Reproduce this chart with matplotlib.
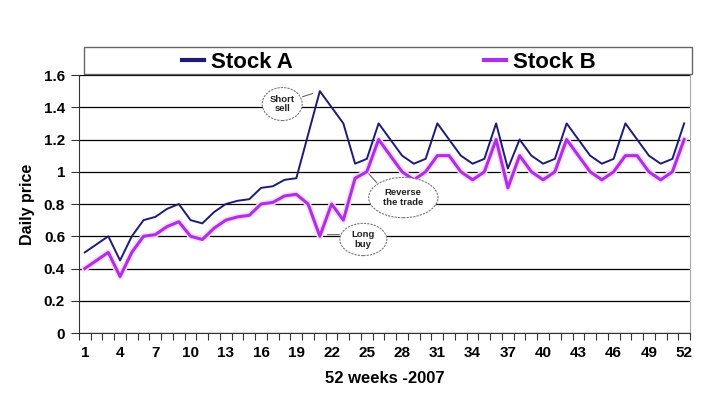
import matplotlib.pyplot as plt
from matplotlib.patches import Ellipse, Rectangle
import numpy as np

weeks = list(range(1, 53))
stock_a = [0.50, 0.55, 0.60, 0.45, 0.60, 0.70, 0.72, 0.77, 0.80, 0.70,
           0.68, 0.75, 0.80, 0.82, 0.83, 0.90, 0.91, 0.95, 0.96, 1.23,
           1.50, 1.40, 1.30, 1.05, 1.08, 1.30, 1.20, 1.10, 1.05, 1.08,
           1.30, 1.20, 1.10, 1.05, 1.08, 1.30, 1.02, 1.20, 1.10, 1.05,
           1.08, 1.30, 1.20, 1.10, 1.05, 1.08, 1.30, 1.20, 1.10, 1.05,
           1.08, 1.30]
stock_b = [0.40, 0.45, 0.50, 0.35, 0.50, 0.60, 0.61, 0.66, 0.69, 0.60,
           0.58, 0.65, 0.70, 0.72, 0.73, 0.80, 0.81, 0.85, 0.86, 0.80,
           0.60, 0.80, 0.70, 0.96, 1.00, 1.20, 1.10, 1.00, 0.95, 1.00,
           1.10, 1.10, 1.00, 0.95, 1.00, 1.20, 0.90, 1.10, 1.00, 0.95,
           1.00, 1.20, 1.10, 1.00, 0.95, 1.00, 1.10, 1.10, 1.00, 0.95,
           1.00, 1.20]
week_labels = list(range(1, 53, 3))
y_ticks = [0, 0.2, 0.4, 0.6, 0.8, 1, 1.2, 1.4, 1.6]
y_labels = ['0', '0.2', '0.4', '0.6', '0.8', '1', '1.2', '1.4', '1.6']

# callouts: text, ellipse centre, ellipse size, pointed week/value
notes = [("Short\nsell", (17.8, 1.42), (3.4, 0.205), (20.6, 1.49), (19.3, 1.46)),
         ("Reverse\nthe trade", (28.1, 0.84), (5.9, 0.25), (25.0, 1.0), (26.0, 0.92)),
         ("Long\nbuy", (24.7, 0.58), (4.0, 0.20), (21.4, 0.61), (22.9, 0.61))]

plt.rcParams['font.family'] = ['Liberation Sans', 'DejaVu Sans']

fig = plt.figure(figsize=(7.11, 3.99), dpi=100)
ax = fig.add_axes([0.111, 0.1654, 0.8595, 0.6466])

ax.plot(weeks, stock_b, color='#f8dcf8', lw=4.5, zorder=2)
ax.plot(weeks, stock_a, color='#1c1c78', lw=1.4, label='Stock A', zorder=3)
ax.plot(weeks, stock_b, color='#b02ee8', lw=2.2, label='Stock B', zorder=4)

ax.set_xlim(0.5, 52.5)
ax.set_ylim(0, 1.6)
ax.set_yticks(y_ticks)
ax.set_yticklabels(y_labels, fontsize=11, fontweight='bold')
ax.set_xticks(week_labels)
ax.set_xticklabels([str(w) for w in week_labels], fontsize=11, fontweight='bold')
ax.set_xticks(np.arange(0.5, 53, 1), minor=True)
ax.tick_params(axis='x', which='major', length=0, pad=9)
ax.tick_params(axis='x', which='minor', length=5, width=0.8, color='#333333')
ax.tick_params(axis='y', length=6, width=0.8, color='#333333', pad=4)
ax.yaxis.grid(True, color='black', lw=0.9)
ax.set_axisbelow(True)
ax.spines['top'].set_visible(False)
ax.spines['right'].set_color('#aaaaaa')
ax.spines['left'].set_color('#333333')
ax.spines['bottom'].set_color('#333333')

ax.set_xlabel('52 weeks -2007', fontsize=12, fontweight='bold', labelpad=8)
ax.set_ylabel('Daily price', fontsize=11.5, fontweight='bold', labelpad=6)

for txt, c, size, tip, base in notes:
    ax.annotate('', xy=tip, xytext=base,
                arrowprops=dict(arrowstyle='-', color='#555555', lw=0.7))
    ax.add_patch(Ellipse(c, size[0], size[1], facecolor='white', edgecolor='#777777',
                         lw=0.8, ls=(0, (2, 1)), zorder=6))
    ax.text(c[0], c[1], txt, ha='center', va='center', fontsize=6.8,
            fontweight='bold', color='#222222', zorder=7, linespacing=1.1)

# legend strip above the plot
fig.patches.append(Rectangle((84 / 711, 1 - 74 / 399), 608 / 711, 27 / 399,
                             transform=fig.transFigure, fill=False,
                             edgecolor='#666666', lw=1))
leg = ax.legend(loc='center', bbox_to_anchor=(0.507, 1.05), ncol=2, frameon=False,
                prop={'size': 16, 'weight': 'bold'}, handlelength=1.0,
                handletextpad=0.3, columnspacing=8.6)
for h in leg.legend_handles:
    h.set_linewidth(3)

fig.savefig('out.png', dpi=100)
